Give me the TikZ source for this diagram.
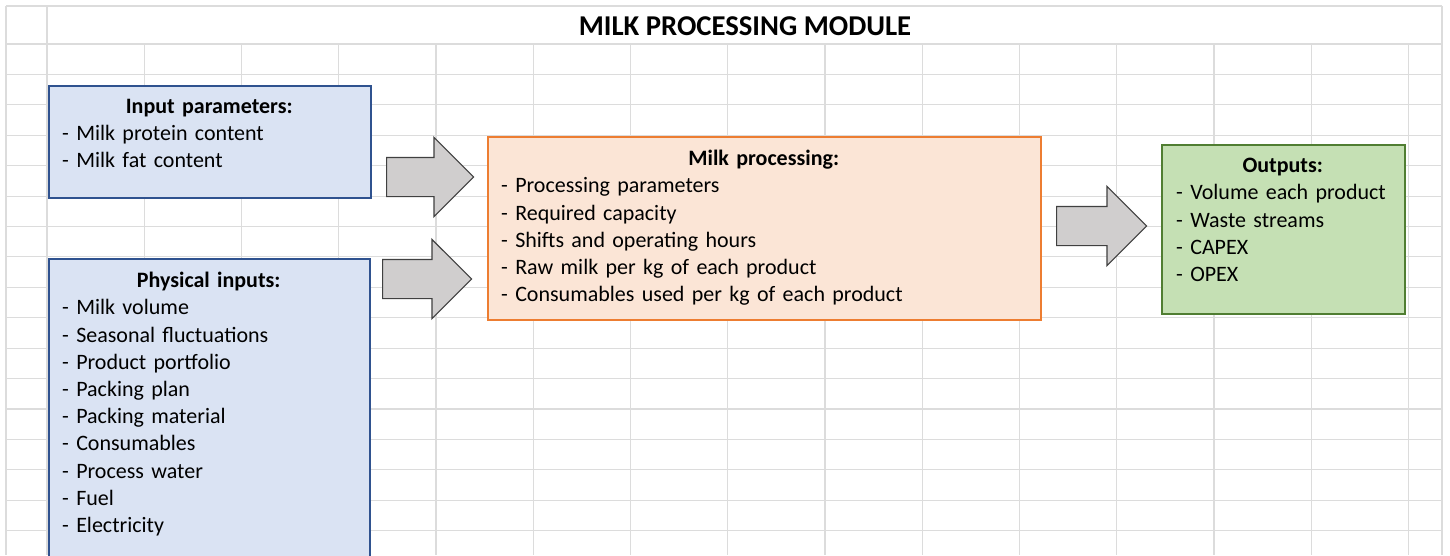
\documentclass[tikz,border=0pt]{standalone}
\usepackage{fontspec}
\setmainfont{Carlito}
\usetikzlibrary{positioning,shapes.arrows}
\definecolor{gridgray}{HTML}{DCDCDC}
\definecolor{inpfill}{HTML}{DAE3F3}
\definecolor{inpline}{HTML}{2F528F}
\definecolor{procfill}{HTML}{FBE5D6}
\definecolor{procline}{HTML}{ED7D31}
\definecolor{outfill}{HTML}{C5E0B4}
\definecolor{outgreen}{HTML}{507E32}
\definecolor{arrfill}{HTML}{D0CECE}
\definecolor{arrline}{HTML}{404040}
\newcommand{\boxhead}[1]{\makebox[\linewidth]{\bfseries #1}}
\newcommand{\boxfont}{\fontsize{22}{27.2}\selectfont\spaceskip=3.8pt plus 1pt minus 0.5pt\relax}
\begin{document}
\begin{tikzpicture}[x=1pt,y=-1pt,
  cell/.style={draw=gridgray,line width=1.1pt},
  module/.style={anchor=north west,inner sep=0pt,line width=1.5pt},
  boxtext/.style={inner sep=0pt,align=left,font=\boxfont},
  blockarr/.style={single arrow,draw=arrline,fill=arrfill,line width=1.2pt,inner xsep=0pt,inner ysep=19pt,single arrow head extend=20pt}]
 \clip (0,0) rectangle (1450,555);
 \fill[white] (0,0) rectangle (1450,555);
 % sheet grid
 \draw[cell] (6,6) -- (1442,6);
 \foreach \r in {0,...,17} \draw[cell] (6,44+30.42*\r) -- (1442,44+30.42*\r);
 \draw[cell] (6,6) -- (6,555);
 \draw[cell] (47,6) -- (47,555);
 \foreach \c in {1,...,14} \draw[cell] (47+97.25*\c,44) -- (47+97.25*\c,555);
 \draw[cell] (1442,6) -- (1442,555);
 \node (title) at (745,26) {\fontsize{28.7}{34}\selectfont\bfseries MILK PROCESSING MODULE};
 % boxes
 \node[module,draw=inpline,fill=inpfill,minimum width=322pt,minimum height=112pt] (inp box) at (48,85) {};
 \node[module,draw=inpline,fill=inpfill,minimum width=321pt,minimum height=320pt] (phys box) at (48,258) {};
 \node[module,draw=procline,fill=procfill,minimum width=553pt,minimum height=183pt] (proc box) at (487,136) {};
 \node[module,draw=outgreen,fill=outfill,minimum width=243pt,minimum height=169pt] (out box) at (1161,144) {};
 % block arrows
 \node[blockarr,anchor=tail,minimum height=87pt] (arr 1) at (386,177) {};
 \node[blockarr,anchor=tail,minimum height=89pt] (arr 2) at (382,279) {};
 \node[blockarr,anchor=tail,minimum height=90pt] (arr 3) at (1056,226) {};
 % texts
 \node[boxtext,text width=294pt,below right=14pt and 14pt of inp box.north west] (inp text)
  {\boxhead{Input parameters:}\\- Milk protein content\\- Milk fat content};
 \node[boxtext,text width=293pt,below right=14pt and 14pt of phys box.north west] (phys text)
  {\boxhead{Physical inputs:}\\- Milk volume\\- Seasonal fluctuations\\- Product portfolio\\- Packing plan\\- Packing material\\- Consumables\\- Process water\\- Fuel\\- Electricity};
 \node[boxtext,text width=525pt,below right=14pt and 14pt of proc box.north west] (proc text)
  {\boxhead{Milk processing:}\\- Processing parameters\\- Required capacity\\- Shifts and operating hours\\- Raw milk per kg of each product\\- Consumables used per kg of each product};
 \node[boxtext,text width=213pt,below right=14pt and 15pt of out box.north west] (out text)
  {\boxhead{Outputs:}\\- Volume each product\\- Waste streams\\- CAPEX\\- OPEX};
\end{tikzpicture}
\end{document}
